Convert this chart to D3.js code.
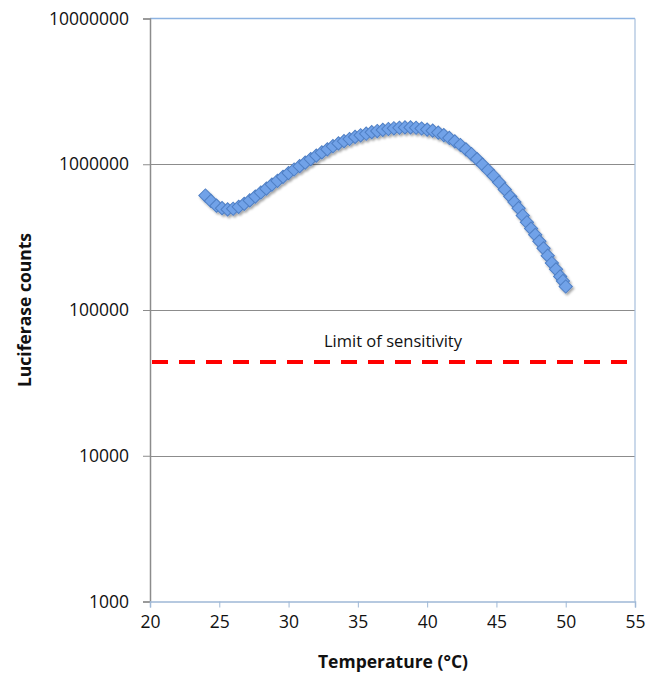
<!DOCTYPE html>
<html><head><meta charset="utf-8">
<script src="https://cdn.jsdelivr.net/npm/d3@7/dist/d3.min.js"></script>
<style>body{margin:0;background:#fff}svg{display:block}</style>
</head><body>
<svg id="chart" width="648" height="674"></svg>
<script>
const temps = [24.0,24.4,24.8,25.2,25.6,26.0,26.4,26.8,27.2,27.6,28.0,28.4,28.8,29.2,29.6,30.0,30.4,30.8,31.2,31.6,32.0,32.4,32.8,33.2,33.6,34.0,34.4,34.8,35.2,35.6,36.0,36.4,36.8,37.2,37.6,38.0,38.4,38.8,39.2,39.6,40.0,40.4,40.8,41.2,41.6,42.0,42.4,42.8,43.2,43.6,44.0,44.4,44.8,45.2,45.6,46.0,46.3,46.6,46.9,47.2,47.5,47.8,48.1,48.4,48.7,49.0,49.3,49.6,49.8,50.0];
const counts = [610000,560000,520000,500000,490000,495000,510000,535000,565000,600000,640000,680000,725000,770000,820000,870000,920000,970000,1025000,1085000,1145000,1205000,1265000,1330000,1390000,1440000,1490000,1540000,1580000,1620000,1660000,1690000,1720000,1745000,1765000,1780000,1790000,1790000,1780000,1760000,1730000,1700000,1650000,1585000,1515000,1435000,1355000,1265000,1175000,1085000,995000,910000,830000,750000,672000,600000,550000,500000,445000,400000,362000,328000,296000,265000,236000,210000,190000,170000,158000,145000];
const xTicks = [20,25,30,35,40,45,50,55];
const yTicks = [1000,10000,100000,1000000,10000000];
const gridValues = [10000,100000,1000000];
const limitValue = 44000;
const limitLabel = "Limit of sensitivity";
const xTitle = "Temperature (°C)";
const yTitle = "Luciferase counts";

const svg = d3.select("#chart");
const L = 150, R = 635, T = 18.5, B = 601.5;
const x = d3.scaleLinear().domain([20,55]).range([L,R]);
const y = d3.scaleLog().domain([1000,1e7]).range([B,T]);
const font = "'Open Sans', 'Liberation Sans', sans-serif";

const defs = svg.append("defs");
const f = defs.append("filter").attr("id","sh").attr("x","-50%").attr("y","-50%").attr("width","200%").attr("height","200%");
f.append("feDropShadow").attr("dx",1.5).attr("dy",2).attr("stdDeviation",1.3).attr("flood-color","#000").attr("flood-opacity",0.35);

// gridlines
svg.append("g").selectAll("line").data(gridValues).join("line")
  .attr("x1",L).attr("x2",R).attr("y1",d=>Math.round(y(d))+0.5).attr("y2",d=>Math.round(y(d))+0.5)
  .attr("stroke","#8c8c8c").attr("stroke-width",1);

// top & right border
svg.append("line").attr("x1",L).attr("x2",R).attr("y1",T).attr("y2",T).attr("stroke","#8db3e2").attr("stroke-width",1.5);
svg.append("line").attr("x1",R).attr("x2",R).attr("y1",T).attr("y2",B).attr("stroke","#a7bfdc").attr("stroke-width",1.2);

// axes
const yAxis = svg.append("g").attr("transform",`translate(${L},0)`)
  .call(d3.axisLeft(y).tickValues(yTicks).tickFormat(d3.format("d")).tickSize(7).tickPadding(14));
yAxis.select(".domain").attr("stroke","#8c8c8c").attr("stroke-width",1.5);
yAxis.selectAll(".tick line").attr("stroke","#8c8c8c");
yAxis.selectAll("text").attr("font-family",font).attr("font-size",17.5).attr("fill","#111");

const xAxis = svg.append("g").attr("transform",`translate(0,${B})`)
  .call(d3.axisBottom(x).tickValues(xTicks).tickSize(6).tickPadding(8));
xAxis.select(".domain").attr("stroke","#9fb8d6").attr("stroke-width",1.5);
xAxis.selectAll(".tick line").attr("stroke","#9fb8d6");
xAxis.selectAll("text").attr("font-family",font).attr("font-size",17.5).attr("fill","#111");

// limit line
svg.append("line").attr("x1",L+2).attr("x2",R+2).attr("y1",y(limitValue)).attr("y2",y(limitValue))
  .attr("stroke","#ff0000").attr("stroke-width",4).attr("stroke-dasharray","16,11");
svg.append("text").attr("x",393).attr("y",y(limitValue)-15).attr("text-anchor","middle")
  .attr("font-family",font).attr("font-size",16.5).attr("fill","#111").text(limitLabel);

// points
const sym = d3.symbol().type(d3.symbolSquare).size(88);
svg.append("g").attr("filter","url(#sh)").selectAll("path").data(temps.map((t,i)=>[t,counts[i]])).join("path")
  .attr("d",sym).attr("transform",d=>`translate(${x(d[0])},${y(d[1])}) rotate(45)`)
  .attr("fill","#71a2e8").attr("stroke","#4f7fc4").attr("stroke-width",1);

// titles
svg.append("text").attr("x",393).attr("y",668).attr("text-anchor","middle")
  .attr("font-family",font).attr("font-weight","bold").attr("font-size",17.5).attr("fill","#111").text(xTitle);
svg.append("text").attr("transform","translate(31,310) rotate(-90)").attr("text-anchor","middle")
  .attr("font-family",font).attr("font-weight","bold").attr("font-size",17.5).attr("fill","#111").text(yTitle);
</script>
</body></html>
